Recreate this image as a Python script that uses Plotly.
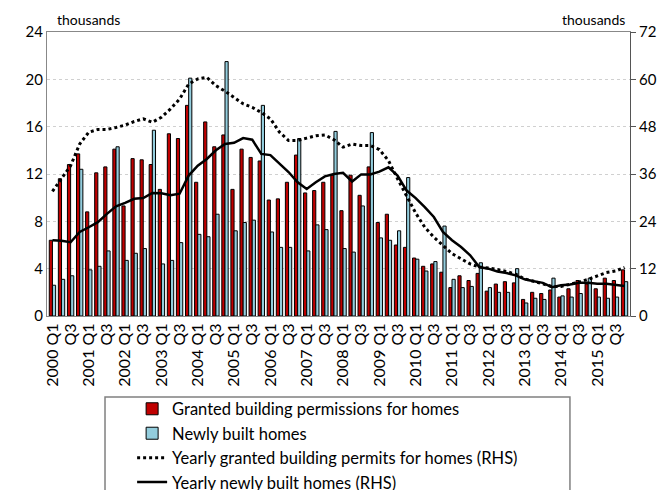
import plotly.graph_objects as go

# quarters 2000 Q1 .. 2015 Q4
years = list(range(2000, 2016))
quarters = ["%d Q%d" % (y, q) for y in years for q in range(1, 5)]
tick_text = ["%d Q1" % (2000 + i // 4) if i % 4 == 0 else "Q3" for i in range(0, 64, 2)]

# thousands, LHS
granted = [6.4, 11.6, 12.8, 13.7, 8.8, 12.1, 12.6, 14.1, 9.3, 13.3, 13.2, 12.8,
           10.7, 15.4, 15.0, 17.8, 11.3, 16.4, 14.3, 15.3, 10.7, 14.1, 13.4, 13.1,
           9.8, 9.9, 11.3, 13.6, 10.4, 10.6, 11.3, 11.9, 8.9, 11.9, 10.2, 12.6,
           7.9, 8.6, 6.0, 5.8, 4.9, 4.2, 4.4, 3.7, 2.4, 3.4, 3.0, 3.6,
           2.1, 2.7, 2.9, 2.8, 1.4, 2.0, 1.9, 2.2, 1.6, 2.3, 3.0, 2.7,
           2.3, 3.2, 3.0, 3.9]
built = [2.6, 3.1, 3.4, 12.4, 3.9, 4.2, 5.5, 14.3, 4.7, 5.3, 5.7, 15.7,
         4.4, 4.7, 6.2, 20.1, 6.9, 6.7, 8.6, 21.5, 7.2, 7.9, 8.1, 17.8,
         7.1, 5.8, 5.8, 15.0, 5.5, 7.7, 7.3, 15.6, 5.7, 5.4, 9.3, 15.5,
         6.6, 6.4, 7.2, 11.7, 4.8, 3.8, 4.6, 7.6, 3.1, 2.4, 2.5, 4.5,
         2.4, 2.0, 2.0, 4.0, 1.1, 1.5, 1.4, 3.2, 1.7, 1.6, 1.9, 3.2,
         1.6, 1.5, 1.6, 2.9]
# thousands, RHS
yearly_granted = [31.6, 34.8, 38.1, 43.6, 46.6, 47.3, 47.3, 47.8, 48.4, 49.3, 50.0, 49.1,
                  50.4, 52.5, 55.0, 58.8, 60.1, 60.5, 58.4, 57.0, 55.4, 53.8, 52.9, 51.6,
                  50.0, 46.6, 44.5, 44.5, 45.1, 45.7, 45.9, 44.7, 42.8, 43.6, 43.2, 43.2,
                  42.2, 39.4, 34.8, 30.6, 26.1, 22.5, 20.0, 17.9, 15.8, 14.5, 13.2, 12.4,
                  12.2, 11.8, 11.3, 10.6, 9.4, 8.8, 8.2, 7.5, 7.5, 8.0, 8.6, 9.3,
                  10.1, 11.0, 11.4, 12.3]
yearly_built = [19.2, 19.1, 18.7, 21.3, 22.5, 23.8, 25.9, 27.8, 28.7, 29.7, 29.9, 31.2,
                31.1, 30.6, 31.0, 35.6, 38.1, 39.8, 42.0, 43.6, 43.9, 45.1, 44.7, 41.1,
                40.8, 38.6, 36.5, 33.9, 32.2, 33.9, 35.4, 36.0, 36.3, 34.1, 35.9, 35.9,
                36.6, 37.7, 35.6, 31.8, 29.9, 27.6, 25.1, 21.3, 19.2, 17.5, 15.4, 12.4,
                12.0, 11.3, 10.9, 10.3, 9.3, 8.8, 8.4, 7.3, 7.8, 8.0, 8.4, 8.4,
                8.2, 8.2, 7.9, 7.6]

x = list(range(len(quarters)))
font_name = "Lato"

fig = go.Figure()
fig.add_trace(go.Bar(x=x, y=granted, name="Granted building permissions for homes",
                     marker=dict(color="#C00000", line=dict(color="black", width=1)),
                     legendgroup="a"))
fig.add_trace(go.Bar(x=x, y=built, name="Newly built homes",
                     marker=dict(color="#93CDDD", line=dict(color="black", width=1)),
                     legendgroup="b"))
fig.add_trace(go.Scatter(x=x, y=yearly_granted, yaxis="y2", mode="lines",
                         name="Yearly granted building permits for homes (RHS)",
                         line=dict(color="black", width=3, dash="dot"),
                         legendgroup="c"))
fig.add_trace(go.Scatter(x=x, y=yearly_built, yaxis="y2", mode="lines",
                         name="Yearly newly built homes (RHS)",
                         line=dict(color="black", width=2.5),
                         legendgroup="d"))

# page has an 8px body margin; the canvas is taller than the window so the
# legend can run off the bottom edge like in the original
fig.update_layout(
    width=665, height=530,
    margin=dict(l=39, r=43, t=24, b=222),
    paper_bgcolor="white", plot_bgcolor="white",
    font=dict(family=font_name, size=14, color="black"),
    barmode="group", bargap=0.3, bargroupgap=0.0,
    showlegend=True,
    legend=dict(x=0.146, y=-0.266, xanchor="left", yanchor="top",
                bgcolor="rgba(0,0,0,0)", borderwidth=0,
                tracegroupgap=0, font=dict(size=16.5)),
    xaxis=dict(range=[-0.6, 63.6], tickmode="array",
               tickvals=list(range(0, 64, 2)), ticktext=tick_text,
               tickangle=-90, tickfont=dict(size=16),
               showline=True, linecolor="#888888", linewidth=1, mirror=True,
               showgrid=False, ticks=""),
    yaxis=dict(range=[0, 24], dtick=4, showgrid=True, gridcolor="#d0d0d0",
               griddash="dot", showline=True, linecolor="#888888",
               ticks="", zeroline=False, tickfont=dict(size=15)),
    yaxis2=dict(range=[0, 72], dtick=12, overlaying="y", side="right",
                showgrid=False, showline=True, linecolor="#555555",
                ticks="outside", ticklen=5, tickcolor="#555555", zeroline=False,
                tickfont=dict(size=15)),
)

fig.add_annotation(text="thousands", xref="paper", yref="paper", x=0.014, y=1.0,
                   xanchor="left", yanchor="bottom", showarrow=False, yshift=2)
fig.add_annotation(text="thousands", xref="paper", yref="paper", x=0.995, y=1.0,
                   xanchor="right", yanchor="bottom", showarrow=False, yshift=2)

# legend frame
fig.add_shape(type="rect", xref="paper", yref="paper",
              x0=0.0995, x1=0.897, y0=-0.285, y1=-0.75,
              line=dict(color="#808080", width=1.5), fillcolor="rgba(0,0,0,0)")

fig.write_html("out.html")
